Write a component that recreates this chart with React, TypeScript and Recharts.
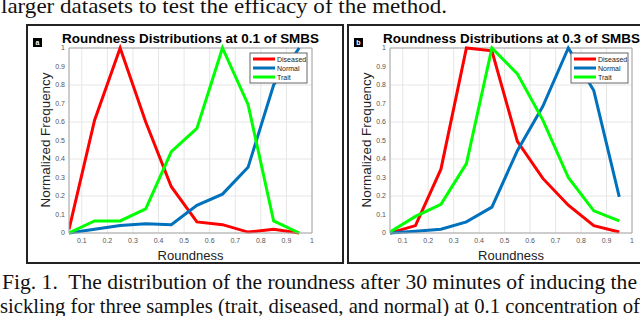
import React from 'react'
import { LineChart, Line, XAxis, YAxis, CartesianGrid, ReferenceLine } from 'recharts'

// roundness bin centres
const roundness = [0.05, 0.15, 0.25, 0.35, 0.45, 0.55, 0.65, 0.75, 0.85, 0.95]

// panel a: 0.1 of SMBS
const diseasedA = [0.02, 0.61, 1.0, 0.6, 0.25, 0.06, 0.045, 0.005, 0.02, 0.0]
const normalA = [0.0, 0.02, 0.04, 0.05, 0.045, 0.15, 0.21, 0.355, 0.8, 1.0]
const traitA = [0.0, 0.065, 0.065, 0.13, 0.44, 0.565, 1.0, 0.695, 0.065, 0.0]

// panel b: 0.3 of SMBS
const diseasedB = [0.0, 0.04, 0.345, 1.0, 0.985, 0.495, 0.295, 0.15, 0.04, 0.005]
const normalB = [0.0, 0.01, 0.02, 0.06, 0.14, 0.445, 0.685, 1.0, 0.77, 0.195]
const traitB = [0.005, 0.09, 0.155, 0.375, 1.0, 0.86, 0.61, 0.3, 0.12, 0.065]

const xTicks = [0.1, 0.2, 0.3, 0.4, 0.5, 0.6, 0.7, 0.8, 0.9, 1]
const yTicks = [0, 0.1, 0.2, 0.3, 0.4, 0.5, 0.6, 0.7, 0.8, 0.9, 1]

const seriesKeys = ['diseased', 'normal', 'trait']
const seriesNames = ['Diseased', 'Normal', 'Trait']
const seriesColors = ['#ff0000', '#0072bd', '#00ff00']

const SANS = '"Liberation Sans", Arial, sans-serif'
const SERIF = '"Liberation Serif", "Times New Roman", serif'

const makeRows = (d: number[], n: number[], t: number[]) =>
  roundness.map((r, i) => ({ r, diseased: d[i], normal: n[i], trait: t[i] }))

const rowsA = makeRows(diseasedA, normalA, traitA)
const rowsB = makeRows(diseasedB, normalB, traitB)

const tickStyle = { fontSize: 7, fill: '#555', fontFamily: SANS }
const frame = '#a6a6a6'

function Panel({ left, width, marginRight, data }: { left: number; width: number; marginRight: number; data: any[] }) {
  return (
    <div style={{ position: 'absolute', left, top: 25 }}>
      <LineChart width={width} height={238} data={data} margin={{ top: 23, right: marginRight, bottom: 16, left: 22 }}>
        <CartesianGrid stroke="#e6e6e6" />
        <XAxis
          type="number"
          dataKey="r"
          domain={[0.05, 1]}
          ticks={xTicks}
          allowDataOverflow
          height={14}
          tick={tickStyle}
          tickLine={false}
          tickSize={3}
          tickMargin={2.5}
          axisLine={{ stroke: frame }}
          tickFormatter={(v: number) => String(v)}
        />
        <YAxis
          type="number"
          domain={[0, 1]}
          ticks={yTicks}
          width={20}
          tick={tickStyle}
          tickLine={false}
          tickSize={2}
          tickMargin={2}
          axisLine={{ stroke: frame }}
          tickFormatter={(v: number) => String(v)}
        />
        <ReferenceLine y={1} stroke={frame} />
        <ReferenceLine x={1} stroke={frame} />
        {seriesKeys.map((k, i) => (
          <Line
            key={k}
            type="linear"
            dataKey={k}
            stroke={seriesColors[i]}
            strokeWidth={3}
            dot={false}
            isAnimationActive={false}
          />
        ))}
      </LineChart>
    </div>
  )
}

function LegendBox({ x, y }: { x: number; y: number }) {
  return (
    <g>
      <rect x={x} y={y} width={57} height={30} fill="#fff" stroke="#666" strokeWidth={1} />
      {seriesNames.map((name, i) => (
        <g key={name}>
          <line x1={x + 3} x2={x + 25} y1={y + 6 + i * 9} y2={y + 6 + i * 9} stroke={seriesColors[i]} strokeWidth={3} />
          <text x={x + 27} y={y + 8.5 + i * 9} fontSize={7} fontFamily={SANS} fill="#222">{name}</text>
        </g>
      ))}
    </g>
  )
}

function Labels({ boxX, boxW, plotX, plotW, title, badge }: any) {
  return (
    <g>
      <rect x={boxX} y={25} width={boxW} height={238} fill="none" stroke="#222" strokeWidth={2} />
      <rect x={boxX + 6} y={38} width={9} height={9} fill="#000" />
      <text x={boxX + 10.5} y={45} fontSize={7} fontWeight="bold" fill="#fff" textAnchor="middle" fontFamily={SANS}>{badge}</text>
      <text x={boxX + 35} y={43} fontSize={13.5} fontWeight="bold" fontFamily={SANS} fill="#000" textLength={257} lengthAdjust="spacingAndGlyphs">{title}</text>
      <text
        x={plotX - 24}
        y={140}
        transform={`rotate(-90 ${plotX - 24} 140)`}
        fontSize={13.4}
        fontFamily={SANS}
        fill="#222"
        textAnchor="middle"
        dominantBaseline="central"
        textLength={135}
        lengthAdjust="spacingAndGlyphs"
      >
        Normalized Frequency
      </text>
      <text x={plotX + plotW / 2} y={260} fontSize={13} fontFamily={SANS} fill="#222" textAnchor="middle">Roundness</text>
    </g>
  )
}

export default function App() {
  return (
    <div style={{ position: 'absolute', left: 0, top: 0, width: 640, height: 316, overflow: 'hidden', background: '#fff' }}>
      <Panel left={27} width={316} marginRight={31} data={rowsA} />
      <Panel left={348} width={292} marginRight={8} data={rowsB} />
      <svg width={640} height={316} style={{ position: 'absolute', left: 0, top: 0, pointerEvents: 'none' }}>
        <text x={1} y={13} fontSize={22} fontFamily={SERIF} fill="#111" textLength={446} lengthAdjust="spacingAndGlyphs">
          larger datasets to test the efficacy of the method.
        </text>
        <Labels boxX={27} boxW={316} plotX={69} plotW={243} title="Roundness Distributions at 0.1 of SMBS" badge="a" />
        <Labels boxX={348} boxW={300} plotX={390} plotW={242} title="Roundness Distributions at 0.3 of SMBS" badge="b" />
        <LegendBox x={250} y={53} />
        <LegendBox x={571} y={53} />
        <text x={2} y={289} fontSize={21} fontFamily={SERIF} fill="#111" textLength={635} lengthAdjust="spacingAndGlyphs" style={{ whiteSpace: 'pre' }}>
          {'Fig. 1.  The distribution of the roundness after 30 minutes of inducing the'}
        </text>
        <text x={0} y={313} fontSize={21} fontFamily={SERIF} fill="#111" textLength={640} lengthAdjust="spacingAndGlyphs">
          sickling for three samples (trait, diseased, and normal) at 0.1 concentration of
        </text>
      </svg>
    </div>
  )
}
